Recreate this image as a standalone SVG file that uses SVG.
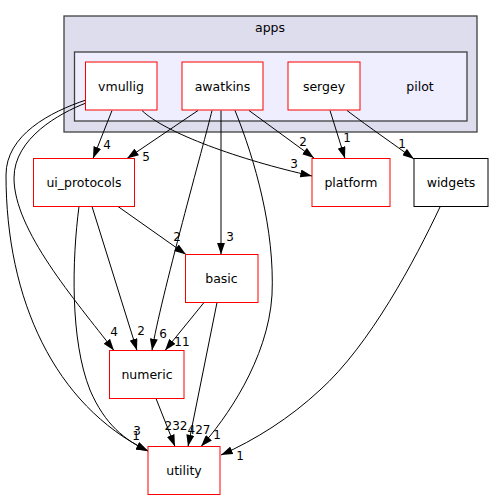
<svg xmlns="http://www.w3.org/2000/svg" width="494" height="500" viewBox="0 0 494 500">
<style>
text{font-family:"DejaVu Sans","Liberation Sans",sans-serif;font-size:12px;fill:#000;text-anchor:middle}
.lb{font-size:12.5px}
.cl{stroke:#404040;stroke-width:1.3}
.n{fill:#fff;stroke:#ff0000;stroke-width:1}
.nb{fill:#fff;stroke:#000;stroke-width:1}
.e{fill:none;stroke:#000;stroke-width:1;marker-end:url(#ah)}
</style>
<defs>
<marker id="ah" markerUnits="userSpaceOnUse" markerWidth="12" markerHeight="8" viewBox="0 0 11 7.5" refX="11" refY="3.75" orient="auto">
<path d="M0,0 L11,3.75 L0,7.5 Z" fill="#000"/>
</marker>
</defs>
<rect width="494" height="500" fill="#fff"/>
<g id="cluster_apps">
<rect class="cl" x="64" y="16" width="413" height="116" fill="#ddddee"/>
<text class="lb" x="270" y="31.5">apps</text>
</g>
<g id="cluster_pilot">
<rect class="cl" x="74.5" y="52" width="392.5" height="69" fill="#eeeeff"/>
<text class="lb" x="420" y="90.5">pilot</text>
</g>
<g id="edges">
<path class="e" d="M112,110.5 L93,158.5"/>
<text x="107" y="148.5">4</text>
<path class="e" d="M198,110.5 L127,158.5"/>
<text x="146" y="160.5">5</text>
<path class="e" d="M142,110.5 C165,133 240,160 312,176"/>
<text x="294" y="167.5">3</text>
<path class="e" d="M249,110.5 L314,158"/>
<text x="303" y="145.5">2</text>
<path class="e" d="M330,110.5 L345,158.5"/>
<text x="347" y="141.5">1</text>
<path class="e" d="M347,110.5 C370,128 395,145 414,159"/>
<text x="402" y="147.5">1</text>
<path class="e" d="M221,110.5 L221,254.5"/>
<text x="230" y="240.5">3</text>
<path class="e" d="M212,110.5 C205,140 160,300 152,350.5"/>
<text x="163" y="337.5">6</text>
<path class="e" d="M235,110.5 C255,160 275,230 272,295 C268,360 225,420 201,446.5"/>
<text x="217" y="438.5">1</text>
<path class="e" d="M118,206.5 L186,254.5"/>
<text x="177" y="240.5">2</text>
<path class="e" d="M92,206.5 L137,350.5"/>
<text x="141" y="334.5">2</text>
<path class="e" d="M86,103 C60,113 14,138 14,178 C14,230 75,300 114,350.5"/>
<text x="114" y="335.5">4</text>
<path class="e" d="M86,100 C50,112 6,135 6,175 C6,300 55,405 148,451"/>
<text x="137" y="435">3</text>
<path class="e" d="M79,206.5 C72,260 70,340 90,390 C105,425 125,440 148,451"/>
<text x="136" y="439.5">1</text>
<path class="e" d="M204,302.5 L165,350.5"/>
<text x="182" y="345.5">11</text>
<path class="e" d="M217,302.5 L188,446.5"/>
<text x="199" y="434">427</text>
<path class="e" d="M156,398.5 L175,446.5"/>
<text x="176" y="430">232</text>
<path class="e" d="M440,207 C415,260 370,345 320,390 C290,418 255,440 221,455"/>
<text x="240" y="459.5">1</text>
</g>
<g id="node_vmullig">
<rect class="n" x="85.5" y="62" width="71.5" height="48"/>
<text class="lb" x="121" y="90.5">vmullig</text>
</g>
<g id="node_awatkins">
<rect class="n" x="182" y="62" width="81" height="48"/>
<text class="lb" x="222.5" y="90.5">awatkins</text>
</g>
<g id="node_sergey">
<rect class="n" x="288" y="62" width="72" height="48"/>
<text class="lb" x="324" y="90.5">sergey</text>
</g>
<g id="node_ui_protocols">
<rect class="n" x="33.5" y="158.5" width="101" height="48"/>
<text class="lb" x="84" y="186.5">ui_protocols</text>
</g>
<g id="node_platform">
<rect class="n" x="312" y="158.5" width="78" height="48"/>
<text class="lb" x="351" y="186.5">platform</text>
</g>
<g id="node_widgets">
<rect class="nb" x="414" y="158.5" width="74" height="48"/>
<text class="lb" x="451" y="186.5">widgets</text>
</g>
<g id="node_basic">
<rect class="n" x="185.5" y="254.5" width="72.5" height="48"/>
<text class="lb" x="221.5" y="282.5">basic</text>
</g>
<g id="node_numeric">
<rect class="n" x="109.5" y="350.5" width="74.5" height="48"/>
<text class="lb" x="147" y="378.5">numeric</text>
</g>
<g id="node_utility">
<rect class="n" x="148" y="446.5" width="72" height="48"/>
<text class="lb" x="184" y="474.5">utility</text>
</g>
</svg>
